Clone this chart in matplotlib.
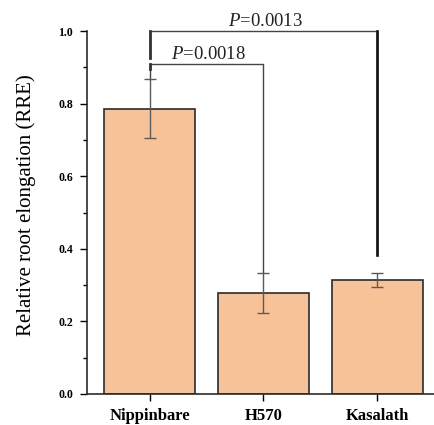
import matplotlib
matplotlib.use('Agg')
import matplotlib.pyplot as plt
from matplotlib.ticker import MultipleLocator

# cultivars and relative root elongation (mean, error)
cultivars = ['Nippinbare', 'H570', 'Kasalath']
rre = [0.786, 0.277, 0.314]
rre_err = [0.081, 0.055, 0.018]

# significance brackets: (left index, right index, height, label)
brackets = [
    (0, 1, 0.91, '0.0018'),
    (0, 2, 1.00, '0.0013'),
]

plt.rcParams['font.family'] = ['Liberation Serif', 'DejaVu Serif']
plt.rcParams['mathtext.fontset'] = 'custom'
plt.rcParams['mathtext.rm'] = 'Liberation Serif'
plt.rcParams['mathtext.it'] = 'Liberation Serif:italic'

fig = plt.figure(figsize=(4.34, 4.25), dpi=100)
ax = fig.add_axes([0.2005, 0.073, 0.7995, 0.854])

x = range(len(cultivars))
ax.bar(x, rre, width=0.8, color='#F8C299', edgecolor='#2b2b2b', linewidth=1.2, zorder=2)
ax.errorbar(x, rre, yerr=rre_err, fmt='none', ecolor='#5a5a5a', elinewidth=1.0,
            capsize=4, capthick=1.0, zorder=3)

# bracket legs: from the bracket down toward the bar's error cap
leg_bottom = [r + e for r, e in zip(rre, rre_err)]
for i, j, h, p in brackets:
    if j == 2:
        ax.plot([i, i, j, j], [h - 0.075, h, h, 0.383], color='#444444', lw=1.0, clip_on=False)
        ax.plot([i, i], [h - 0.075, h], color='#333333', lw=2.0, clip_on=False)
        ax.plot([j, j], [0.383, h], color='#111111', lw=1.9, clip_on=False)
    else:
        ax.plot([i, i, j, j], [leg_bottom[i], h, h, leg_bottom[j]], color='#444444', lw=1.0, clip_on=False)
        ax.plot([i, i], [h - 0.015, h], color='#333333', lw=2.0, clip_on=False)
    ax.text((i + j) / 2 + 0.02, h + 0.002, r'$\it{P}$=' + p,
            ha='center', va='bottom', fontsize=13.5, color='#222222')

ax.set_xlim(-0.55, 2.5)
ax.set_ylim(0, 1.0)
ax.set_xticks(list(x))
ax.set_xticklabels(cultivars, fontsize=12, fontweight='bold')
ax.yaxis.set_major_locator(MultipleLocator(0.2))
ax.yaxis.set_minor_locator(MultipleLocator(0.1))
ax.set_yticklabels([f'{v:.1f}' for v in ax.get_yticks()], fontsize=8.5, fontweight='bold')
ax.tick_params(axis='y', which='major', length=5, width=1.0, pad=5)
ax.tick_params(axis='y', which='minor', length=3, width=1.0)
ax.tick_params(axis='x', length=5, width=1.0, pad=5)
ax.set_ylabel('Relative root elongation (RRE)', fontsize=15)
ax.yaxis.set_label_coords(-0.147, 0.52)

for s in ['top', 'right']:
    ax.spines[s].set_visible(False)
for s in ['left', 'bottom']:
    ax.spines[s].set_linewidth(1.2)
    ax.spines[s].set_color('#2b2b2b')

fig.savefig('out.png', dpi=100)
